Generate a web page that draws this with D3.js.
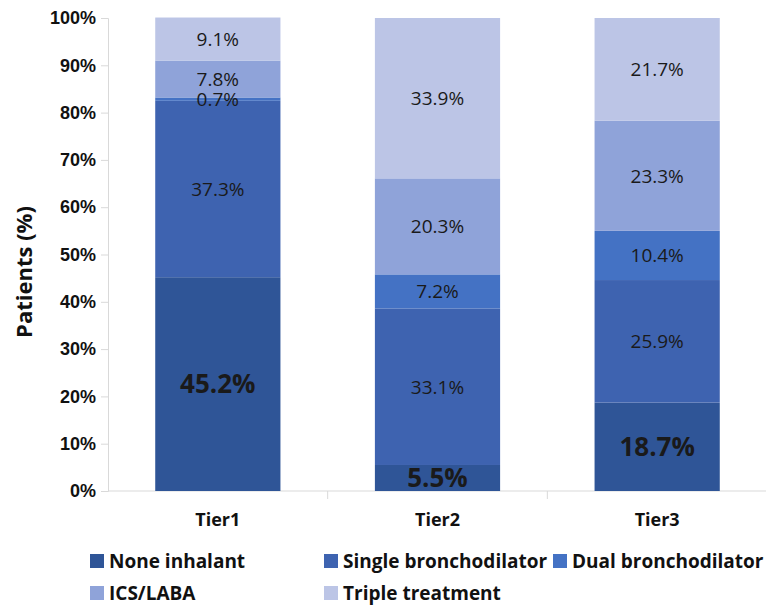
<!DOCTYPE html>
<html>
<head>
<meta charset="utf-8">
<script src="https://cdn.jsdelivr.net/npm/d3@7"></script>
<style>
  body { margin: 0; background: #fff; }
  svg { font-family: "Open Sans", "Noto Sans", sans-serif; }
</style>
</head>
<body>
<div id="chart"></div>
<script>
// data
var tiers = ["Tier1", "Tier2", "Tier3"];
var treatments = ["None inhalant", "Single bronchodilator", "Dual bronchodilator", "ICS/LABA", "Triple treatment"];
var noneInhalant = [45.2, 5.5, 18.7];
var singleBronchodilator = [37.3, 33.1, 25.9];
var dualBronchodilator = [0.7, 7.2, 10.4];
var icsLaba = [7.8, 20.3, 23.3];
var tripleTreatment = [9.1, 33.9, 21.7];
var yTicks = [0, 10, 20, 30, 40, 50, 60, 70, 80, 90, 100];

var colors = ["#2f5597", "#3e63b0", "#4472c4", "#8fa3d9", "#bcc5e6"];

var width = 766, height = 606;
var margin = { top: 18, right: -1, bottom: 115, left: 108 };

var rows = tiers.map(function (t, i) {
  return {
    tier: t,
    "None inhalant": noneInhalant[i],
    "Single bronchodilator": singleBronchodilator[i],
    "Dual bronchodilator": dualBronchodilator[i],
    "ICS/LABA": icsLaba[i],
    "Triple treatment": tripleTreatment[i]
  };
});

var svg = d3.select("#chart").append("svg")
  .attr("width", width)
  .attr("height", height);

var x = d3.scaleBand()
  .domain(tiers)
  .range([margin.left, width - margin.right])
  .paddingInner(0.43)
  .paddingOuter(0.215);

var y = d3.scaleLinear()
  .domain([0, 100])
  .range([height - margin.bottom, margin.top]);

var series = d3.stack().keys(treatments)(rows);

// y axis
var yAxis = svg.append("g")
  .attr("transform", "translate(" + margin.left + ",0)")
  .call(d3.axisLeft(y).tickValues(yTicks).tickSize(7).tickPadding(5)
    .tickFormat(function (d) { return d + "%"; }));
yAxis.select(".domain").attr("stroke", "#d9d9d9");
yAxis.selectAll(".tick line").attr("stroke", "#d9d9d9");
yAxis.selectAll("text")
  .attr("font-size", 18)
  .attr("font-weight", "bold")
  .attr("fill", "#111");

// x axis: baseline, separator ticks between categories, labels
var gap = x.step() - x.bandwidth();
var xAxis = svg.append("g")
  .attr("transform", "translate(0," + y(0) + ")");
xAxis.append("line")
  .attr("x1", margin.left).attr("x2", width)
  .attr("stroke", "#d9d9d9");
xAxis.selectAll(".sep")
  .data(tiers.slice(1))
  .enter().append("line")
  .attr("x1", function (d) { return x(d) - gap / 2; })
  .attr("x2", function (d) { return x(d) - gap / 2; })
  .attr("y1", 0).attr("y2", 8)
  .attr("stroke", "#d9d9d9");
xAxis.selectAll(".lab")
  .data(tiers)
  .enter().append("text")
  .attr("x", function (d) { return x(d) + x.bandwidth() / 2; })
  .attr("y", 35)
  .attr("text-anchor", "middle")
  .attr("font-size", 18)
  .attr("font-weight", "bold")
  .attr("fill", "#111")
  .text(function (d) { return d; });

// y title
svg.append("text")
  .attr("transform", "translate(32," + 272 + ") rotate(-90)")
  .attr("text-anchor", "middle")
  .attr("font-size", 22)
  .attr("font-weight", "bold")
  .attr("fill", "#111")
  .text("Patients (%)");

// bars
var layer = svg.selectAll(".layer")
  .data(series)
  .enter().append("g")
  .attr("class", "layer")
  .attr("fill", function (d, i) { return colors[i]; });

layer.selectAll("rect")
  .data(function (d) { return d; })
  .enter().append("rect")
  .attr("x", function (d) { return x(d.data.tier); })
  .attr("y", function (d) { return y(d[1]); })
  .attr("height", function (d) { return y(d[0]) - y(d[1]); })
  .attr("width", x.bandwidth());

// value labels, drawn on top of all bars
var labels = svg.append("g");
series.forEach(function (s, si) {
  labels.selectAll(".v" + si)
    .data(s)
    .enter().append("text")
    .attr("x", function (d) { return x(d.data.tier) + x.bandwidth() / 2; })
    .attr("y", function (d) { return (y(d[0]) + y(d[1])) / 2; })
    .attr("dy", "0.36em")
    .attr("text-anchor", "middle")
    .attr("font-size", si === 0 ? 26 : 19)
    .attr("font-weight", si === 0 ? "bold" : "normal")
    .attr("fill", "#1a1a1a")
    .text(function (d) { return (d[1] - d[0]).toFixed(1) + "%"; });
});

// legend
var legendPos = [
  [90, 561], [324, 561], [553, 561],
  [90, 593], [324, 593]
];
var legend = svg.selectAll(".legend")
  .data(treatments)
  .enter().append("g")
  .attr("class", "legend")
  .attr("transform", function (d, i) {
    return "translate(" + legendPos[i][0] + "," + legendPos[i][1] + ")";
  });
legend.append("rect")
  .attr("x", 0).attr("y", -7)
  .attr("width", 14).attr("height", 14)
  .attr("fill", function (d, i) { return colors[i]; });
legend.append("text")
  .attr("x", 19)
  .attr("dy", "0.36em")
  .attr("font-size", 19)
  .attr("font-weight", "bold")
  .attr("fill", "#111")
  .text(function (d) { return d; });
</script>
</body>
</html>
